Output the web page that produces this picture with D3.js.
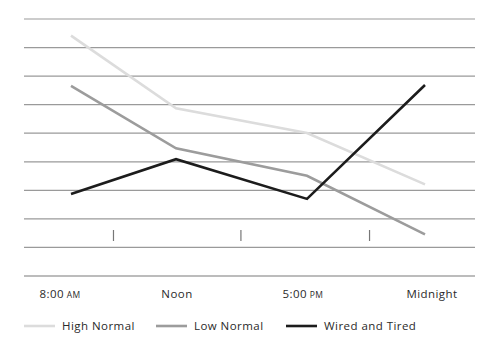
<!DOCTYPE html>
<html><head><meta charset="utf-8">
<script src="https://cdn.jsdelivr.net/npm/d3@7"></script>
<style>
html,body{margin:0;padding:0;background:#fff;}
text{font-family:"Open Sans",sans-serif;fill:#2a2a2a;letter-spacing:0.45px;}
</style></head>
<body><svg id="c" width="493" height="357"></svg>
<script>
// ---- data ----
const categories = ["8:00", "Noon", "5:00", "Midnight"];
const categorySuffix = ["AM", "", "PM", ""];
const xPositions = [0, 0.89, 2, 3];          // relative placement of each time along the axis
const highNormal = [8.42, 5.87, 5.01, 3.21];
const lowNormal = [6.66, 4.47, 3.51, 1.46];
const wiredTired = [2.87, 4.09, 2.70, 6.69];
const seriesNames = ["High Normal", "Low Normal", "Wired and Tired"];
const gridValues = [0,1,2,3,4,5,6,7,8,9];
const tickMarks = [0.36, 1.44, 2.53];

const colors = ["#dcdcdc", "#9c9c9c", "#1c1c1c"];
const svg = d3.select("#c");
const x = d3.scaleLinear().domain([0, 3]).range([71, 425]);
const y = d3.scaleLinear().domain([0, 9]).range([276, 19]);

// grid
svg.append("g").selectAll("line").data(gridValues).join("line")
  .attr("x1", 24).attr("x2", 475)
  .attr("y1", d => y(d)).attr("y2", d => y(d))
  .attr("stroke", d => d === 0 ? "#7a7a7a" : "#9a9a9a").attr("stroke-width", 1.2);

// tick marks
svg.append("g").selectAll("line").data(tickMarks).join("line")
  .attr("x1", d => x(d)).attr("x2", d => x(d))
  .attr("y1", 230).attr("y2", 241)
  .attr("stroke", "#777").attr("stroke-width", 1.2);

// lines
const allSeries = [highNormal, lowNormal, wiredTired];
const line = d3.line().x((d, i) => x(xPositions[i])).y(d => y(d));
svg.append("g").selectAll("path").data(allSeries).join("path")
  .attr("d", d => line(d)).attr("fill", "none")
  .attr("stroke", (d, i) => colors[i]).attr("stroke-width", 2.6)
  .attr("stroke-linejoin", "miter");

// x labels
const labelDx = [-11, 1, -4, 7];
const lbl = svg.append("g").selectAll("text").data(categories).join("text")
  .attr("x", (d, i) => x(xPositions[i]) + labelDx[i]).attr("y", 298)
  .attr("text-anchor", "middle").attr("font-size", 11.5);
lbl.append("tspan").text(d => d);
lbl.append("tspan").text((d, i) => categorySuffix[i] ? " " + categorySuffix[i] : "")
  .attr("font-size", 8.5);

// legend
const legX = [24, 156, 286];
const lg = svg.append("g").selectAll("g").data(seriesNames).join("g")
  .attr("transform", (d, i) => `translate(${legX[i]},326)`);
lg.append("line").attr("x1", 0).attr("x2", 31).attr("y1", 0).attr("y2", 0)
  .attr("stroke", (d, i) => colors[i]).attr("stroke-width", 2.6);
lg.append("text").attr("x", 38).attr("y", 4).attr("font-size", 11.5).text(d => d);
</script></body></html>
